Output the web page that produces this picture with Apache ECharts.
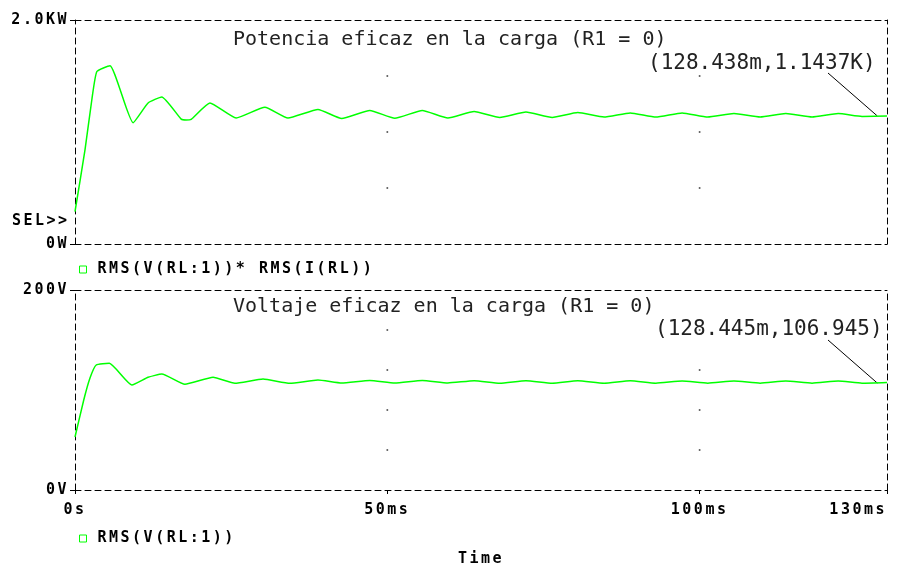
<!DOCTYPE html>
<html><head><meta charset="utf-8">
<script src="https://cdn.jsdelivr.net/npm/echarts@6/dist/echarts.min.js"></script>
<style>html,body{margin:0;padding:0;background:#fff}#c{width:897px;height:568px}</style>
</head><body><div id="c"></div>
<script>
// wider letter spacing for the bold pixel-style labels
(function(){
  var P = CanvasRenderingContext2D.prototype;
  var of = P.fillText;
  P.fillText = function(t,x,y,m){
    var f = this.font || '';
    if ('letterSpacing' in this) this.letterSpacing = /bold|700/.test(f) ? '2.5px' : '0px';
    return m === undefined ? of.call(this,t,x,y) : of.call(this,t,x,y,m);
  };
})();

// ---- data (time in ms) ----
const timeP  = [0, 1.6, 2.7, 3.5, 5.6, 9.3, 11.7, 13.9, 17.0, 17.8, 18.6, 21.6, 25.8, 30.4, 34.1, 38.9, 42.7, 47.2, 51.2, 55.6, 59.7, 63.9, 68.0, 72.2, 76.4, 80.5, 84.7, 88.9, 93.0, 97.2, 101.3, 105.5, 109.7, 113.8, 118.0, 122.2, 126.0, 130];
const powerW = [290, 840, 1290, 1540, 1592, 1083, 1259, 1313, 1115, 1107, 1113, 1259, 1125, 1221, 1125, 1201, 1121, 1192, 1123, 1192, 1125, 1183, 1130, 1179, 1130, 1174, 1134, 1170, 1134, 1170, 1134, 1165, 1134, 1165, 1134, 1165, 1139, 1143];
const timeV  = [0, 1.4, 2.4, 3.4, 5.5, 9.1, 11.7, 13.9, 17.6, 22.1, 25.6, 30.1, 34.4, 38.9, 42.7, 47.2, 51.2, 55.6, 59.7, 63.9, 68.0, 72.2, 76.4, 80.5, 84.7, 88.9, 93.0, 97.2, 101.3, 105.5, 109.7, 113.8, 118.0, 122.2, 126.0, 130];
const voltV  = [53, 90, 112, 125, 126.7, 105, 112.7, 116, 105.7, 112.7, 106.7, 111, 106.7, 110, 107, 109.5, 107, 109.5, 107, 109.3, 106.8, 109.3, 106.8, 109.2, 106.8, 109.2, 106.8, 109, 106.8, 109, 106.8, 109, 106.8, 109, 106.8, 107.5];

const timeTicks = [0, 50, 100, 130];
const timeTickLabels = ['0s', '50ms', '100ms', '130ms'];
const powerTicks = [0, 2000];
const powerTickLabels = ['0W', '2.0KW'];
const voltTicks = [0, 200];
const voltTickLabels = ['0V', '200V'];
const gridTimeDots = [50, 100];
const gridPowerDots = [500, 1000, 1500];
const gridVoltDots = [40, 80, 120, 160];

const namePower = 'RMS(V(RL:1))* RMS(I(RL))';
const nameVolt = 'RMS(V(RL:1))';
const titlePower = 'Potencia eficaz en la carga (R1 = 0)';
const titleVolt = 'Voltaje eficaz en la carga (R1 = 0)';
const cursorPower = [128.438, 1143.7];
const cursorPowerLabel = '(128.438m,1.1437K)';
const cursorVolt = [128.445, 106.945];
const cursorVoltLabel = '(128.445m,106.945)';

// ---- styling ----
const GREEN = '#00ff00';
const MONO = '"DejaVu Sans Mono", monospace';
const dashed = {color: '#000', width: 1, type: [6, 4]};
const boldLabel = {color: '#000', fontFamily: MONO, fontWeight: 'bold', fontSize: 15};

function frameAxis(grid, pos, min, max) {
  return {type: 'value', gridIndex: grid, position: pos, min: min, max: max,
    axisLine: {show: true, onZero: false, lineStyle: dashed},
    axisTick: {show: false}, axisLabel: {show: false}, splitLine: {show: false}};
}
function lookup(ticks, labels) {
  return function (v) { const i = ticks.indexOf(v); return i >= 0 ? labels[i] : ''; };
}

const chart = echarts.init(document.getElementById('c'), null, {renderer: 'canvas'});

const option = {
  animation: false,
  backgroundColor: '#fff',
  grid: [
    {left: 75, top: 20, width: 812, height: 224},
    {left: 75, top: 290, width: 812, height: 200}
  ],
  xAxis: [
    {type: 'value', gridIndex: 0, position: 'bottom', min: 0, max: 130, interval: 50,
      axisLine: {show: true, onZero: false, lineStyle: dashed},
      axisTick: {show: false}, axisLabel: {show: false}, splitLine: {show: false}},
    frameAxis(0, 'top', 0, 130),
    {type: 'value', gridIndex: 1, position: 'bottom', min: 0, max: 130, interval: 50,
      axisLine: {show: true, onZero: false, lineStyle: dashed},
      axisTick: {show: true, length: 4, lineStyle: {color: '#000', width: 1}},
      axisLabel: Object.assign({show: true, margin: 13, formatter: lookup(timeTicks, timeTickLabels),
        showMaxLabel: true, alignMaxLabel: 'right'}, boldLabel),
      splitLine: {show: false},
      name: 'Time', nameLocation: 'middle', nameGap: 62, nameTextStyle: boldLabel},
    frameAxis(1, 'top', 0, 130)
  ],
  yAxis: [
    {type: 'value', gridIndex: 0, position: 'left', min: 0, max: 2000, interval: 2000,
      axisLine: {show: true, onZero: false, lineStyle: dashed},
      axisTick: {show: true, length: 5, lineStyle: {color: '#000', width: 1}},
      axisLabel: Object.assign({show: true, margin: 6, formatter: lookup(powerTicks, powerTickLabels)}, boldLabel),
      splitLine: {show: false}},
    frameAxis(0, 'right', 0, 2000),
    {type: 'value', gridIndex: 1, position: 'left', min: 0, max: 200, interval: 200,
      axisLine: {show: true, onZero: false, lineStyle: dashed},
      axisTick: {show: true, length: 5, lineStyle: {color: '#000', width: 1}},
      axisLabel: Object.assign({show: true, margin: 6, formatter: lookup(voltTicks, voltTickLabels)}, boldLabel),
      splitLine: {show: false}},
    frameAxis(1, 'right', 0, 200)
  ],
  legend: [
    {data: [namePower], left: 74, top: 257, orient: 'horizontal', icon: 'rect', itemWidth: 7, itemHeight: 7,
      selectedMode: false, itemStyle: {color: '#fff', borderColor: GREEN, borderWidth: 1},
      textStyle: Object.assign({padding: [0, 0, 0, 6]}, boldLabel)},
    {data: [nameVolt], left: 74, top: 526, orient: 'horizontal', icon: 'rect', itemWidth: 7, itemHeight: 7,
      selectedMode: false, itemStyle: {color: '#fff', borderColor: GREEN, borderWidth: 1},
      textStyle: Object.assign({padding: [0, 0, 0, 6]}, boldLabel)}
  ],
  series: [
    {name: namePower, type: 'line', xAxisIndex: 0, yAxisIndex: 0, symbol: 'none', smooth: 0.15,
      data: timeP.map((t, i) => [t, powerW[i]]),
      lineStyle: {color: GREEN, width: 1.5}, itemStyle: {color: GREEN}},
    {name: nameVolt, type: 'line', xAxisIndex: 2, yAxisIndex: 2, symbol: 'none', smooth: 0.15,
      data: timeV.map((t, i) => [t, voltV[i]]),
      lineStyle: {color: GREEN, width: 1.5}, itemStyle: {color: GREEN}},
    {type: 'scatter', xAxisIndex: 0, yAxisIndex: 0, symbolSize: 2, silent: true,
      itemStyle: {color: '#333'},
      data: gridTimeDots.flatMap(t => gridPowerDots.map(p => [t, p]))},
    {type: 'scatter', xAxisIndex: 2, yAxisIndex: 2, symbolSize: 2, silent: true,
      itemStyle: {color: '#333'},
      data: gridTimeDots.flatMap(t => gridVoltDots.map(v => [t, v]))}
  ]
};
chart.setOption(option);

const pP = chart.convertToPixel({xAxisIndex: 0, yAxisIndex: 0}, cursorPower);
const pV = chart.convertToPixel({xAxisIndex: 2, yAxisIndex: 2}, cursorVolt);
const thin = '20px ' + MONO;
const thinAnn = '21px ' + MONO;
chart.setOption({
  graphic: [
    {type: 'text', style: {text: 'SEL>>', x: 12, y: 221, font: 'bold 15px ' + MONO, fill: '#000', verticalAlign: 'middle'}},
    {type: 'text', style: {text: titlePower, x: 233, y: 40, font: thin, fill: '#222', verticalAlign: 'middle'}},
    {type: 'text', style: {text: titleVolt, x: 233, y: 307, font: thin, fill: '#222', verticalAlign: 'middle'}},
    {type: 'text', style: {text: cursorPowerLabel, x: 648, y: 64, font: thinAnn, fill: '#222', verticalAlign: 'middle'}},
    {type: 'text', style: {text: cursorVoltLabel, x: 655, y: 330, font: thinAnn, fill: '#222', verticalAlign: 'middle'}},
    {type: 'line', shape: {x1: 828, y1: 73, x2: pP[0], y2: pP[1]}, style: {stroke: '#000', lineWidth: 1}},
    {type: 'line', shape: {x1: 828, y1: 340, x2: pV[0], y2: pV[1]}, style: {stroke: '#000', lineWidth: 1}}
  ]
});
</script>
</body></html>
